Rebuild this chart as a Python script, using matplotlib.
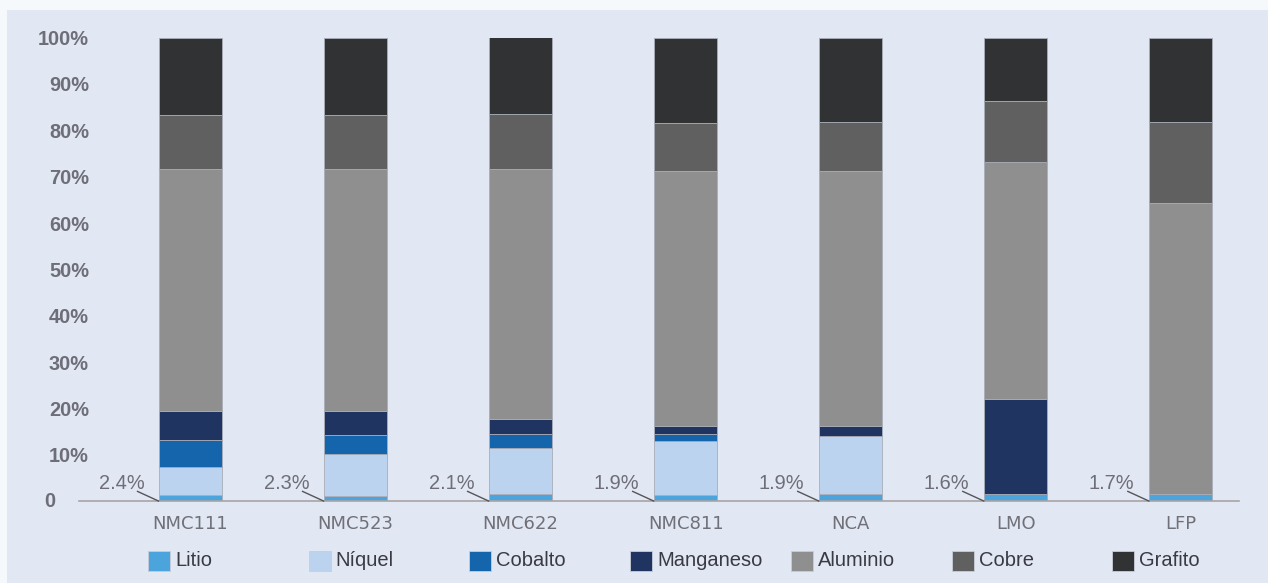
import numpy as np
import matplotlib
matplotlib.use("Agg")
import matplotlib.pyplot as plt
from matplotlib import font_manager
from matplotlib.patches import Rectangle

categories = ['NMC111', 'NMC523', 'NMC622', 'NMC811', 'NCA', 'LMO', 'LFP']
series_names = ['Litio', 'Níquel', 'Cobalto', 'Manganeso', 'Aluminio', 'Cobre', 'Grafito']

litio = [1.3, 1.2, 1.6, 1.4, 1.6, 1.6, 1.6]
niquel = [6.0, 9.1, 9.8, 11.5, 12.5, 0, 0]
cobalto = [6.0, 3.9, 3.1, 1.6, 0, 0, 0]
manganeso = [6.2, 5.2, 3.2, 1.7, 2.1, 20.4, 0]
aluminio = [52.2, 52.3, 54.0, 55.1, 55.0, 51.2, 62.8]
cobre = [11.6, 11.6, 11.7, 10.3, 10.6, 13.2, 17.4]
grafito = [16.7, 16.7, 16.6, 18.4, 18.2, 13.6, 18.2]

litio_labels = ['2.4%', '2.3%', '2.1%', '1.9%', '1.9%', '1.6%', '1.7%']

ytick_vals = [0, 10, 20, 30, 40, 50, 60, 70, 80, 90, 100]

colors = ['#4ba4dc', '#bcd3ef', '#1565ad', '#1f3461', '#8f8f8f', '#606060', '#313234']

# fonts
names = {f.name for f in font_manager.fontManager.ttflist}
if 'Liberation Sans Narrow' in names:
    leg_font, leg_size = 'Liberation Sans Narrow', 17
else:
    leg_font, leg_size = 'Liberation Sans', 14.5

W, H = 1268, 583
fig = plt.figure(figsize=(W / 100, H / 100), dpi=100)
fig.patch.set_facecolor('#f5f9fb')
panel_col = '#e1e7f3'
fig.patches.append(Rectangle((7 / W, 0), 1 - 7 / W, 1 - 10 / H, transform=fig.transFigure,
                             facecolor=panel_col, edgecolor='none', zorder=-5))

ax = fig.add_axes([79 / W, (H - 501.3) / H, 1160 / W, (501.3 - 37.5) / H])
ax.set_facecolor('none')
ax.set_zorder(2)

data = [litio, niquel, cobalto, manganeso, aluminio, cobre, grafito]
x = np.arange(len(categories))
width = 0.379
bottom = np.zeros(len(categories))
for name, vals, col in zip(series_names, data, colors):
    vals = np.array(vals, dtype=float)
    lw = np.where(vals > 0, 0.6, 0.0)
    ax.bar(x, vals, width, bottom=bottom, color=col, edgecolor='#a9adb8',
           linewidth=lw, label=name, zorder=2)
    bottom += vals

ax.set_xlim(-0.675, 6.353)
ax.set_ylim(0, 100)

for s in ['top', 'right', 'left']:
    ax.spines[s].set_visible(False)
ax.spines['bottom'].set_color('#a8a4a4')
ax.spines['bottom'].set_linewidth(1.2)
ax.spines['bottom'].set_zorder(3)

ax.set_yticks(ytick_vals)
ax.set_yticklabels([''] + [f'{v}%' for v in ytick_vals[1:]],
                   fontfamily='Liberation Sans', fontweight='bold', fontsize=14.4, color='#6e6e78')
ax.tick_params(axis='y', length=0, pad=-7.2)
ax.text(-24 / 1160, 0, '0', transform=ax.get_yaxis_transform(), ha='right', va='center',
        fontfamily='Liberation Sans', fontweight='bold', fontsize=14.4, color='#6e6e78')

ax.set_xticks(x)
ax.set_xticklabels(categories, fontfamily='DejaVu Sans', fontsize=13, color='#707078')
ax.tick_params(axis='x', length=0, pad=10)

# lithium labels with leader lines
for i, lab in enumerate(litio_labels):
    left = x[i] - width / 2
    ax.text(left - 0.09, 3.9, lab, ha='right', va='center', fontfamily='Liberation Sans',
            fontsize=14.4, color='#6e6e78', zorder=4)
    ax.plot([left - 0.135, left], [2.2, 0], color='#555559', lw=1, zorder=4,
            clip_on=False, solid_capstyle='butt')

# legend drawn as evenly spaced entries
for i, (name, col) in enumerate(zip(series_names, colors)):
    x0 = 148 + 160.7 * i
    fig.patches.append(Rectangle((x0 / W, (H - 571) / H), 22 / W, 20 / H,
                                 transform=fig.transFigure, facecolor=col,
                                 edgecolor='#c8cdd8', linewidth=0.6, zorder=3))
    fig.text((x0 + 27) / W, (H - 561) / H, name, ha='left', va='center',
             fontfamily=leg_font, fontsize=leg_size, color='#3a3a44')

fig.savefig('out.png', dpi=100, facecolor=fig.get_facecolor())
